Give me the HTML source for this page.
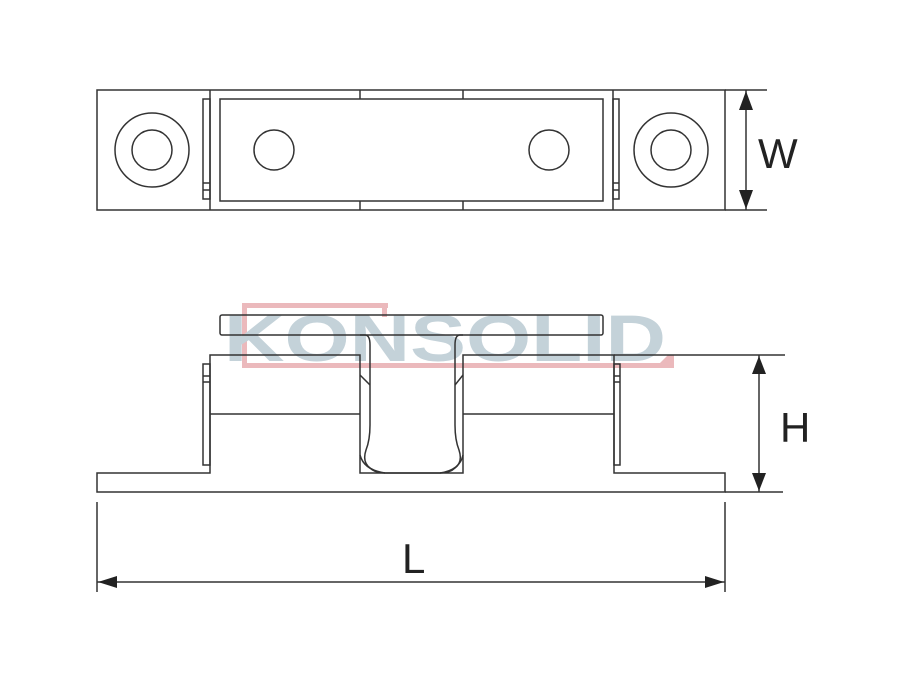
<!DOCTYPE html>
<html><head><meta charset="utf-8"><style>
html,body{margin:0;padding:0;background:#fff;}
svg{display:block;}
</style></head><body>
<svg width="899" height="675" viewBox="0 0 899 675" xmlns="http://www.w3.org/2000/svg">
<!-- watermark -->
<g fill="#ebb9bc">
<rect x="242" y="303" width="146" height="5"/>
<rect x="242" y="303" width="5" height="65"/>
<rect x="242" y="363" width="430" height="5"/>
<rect x="382" y="303" width="5" height="14"/>
<polygon points="660,363 668,355 674,355 674,368 660,368"/>
</g>
<text x="224" y="361" font-family="Liberation Sans, sans-serif" font-size="66" font-weight="bold" fill="#c4d2d9" textLength="442" lengthAdjust="spacingAndGlyphs">KONSOLID</text>

<g fill="none" stroke="#333" stroke-width="1.5">
<!-- top view -->
<rect x="97" y="90" width="628" height="120"/>
<line x1="210" y1="90" x2="210" y2="210"/>
<line x1="613" y1="90" x2="613" y2="210"/>
<rect x="220" y="99" width="383" height="102"/>
<line x1="360" y1="90" x2="360" y2="99"/><line x1="463" y1="90" x2="463" y2="99"/>
<line x1="360" y1="201" x2="360" y2="210"/><line x1="463" y1="201" x2="463" y2="210"/>
<rect x="203" y="99" width="7" height="100"/>
<line x1="203" y1="183" x2="210" y2="183"/><line x1="203" y1="190" x2="210" y2="190"/>
<rect x="613" y="99" width="6" height="100"/>
<line x1="613" y1="183" x2="619" y2="183"/><line x1="613" y1="190" x2="619" y2="190"/>
<circle cx="152" cy="150" r="37"/><circle cx="152" cy="150" r="20"/>
<circle cx="671" cy="150" r="37"/><circle cx="671" cy="150" r="20"/>
<circle cx="274" cy="150" r="20"/><circle cx="549" cy="150" r="20"/>

<!-- side view -->
<rect x="220" y="315" width="383" height="20" rx="2"/>
<path d="M97,473 H210 V355 H360 V473 H463 V355 H614 V473 H725 V492 H97 Z"/>
<line x1="210" y1="414" x2="360" y2="414"/>
<line x1="463" y1="414" x2="614" y2="414"/>
<rect x="203" y="364" width="7" height="101"/>
<line x1="203" y1="376" x2="210" y2="376"/><line x1="203" y1="382" x2="210" y2="382"/>
<rect x="614" y="364" width="6" height="101"/>
<line x1="614" y1="376" x2="620" y2="376"/><line x1="614" y1="382" x2="620" y2="382"/>
<path d="M360,335 H365 Q370,335 370,345 V425 Q370,440 366,450 Q362,462 370,468 Q375,473 385,473"/>
<path d="M463,335 H460 Q455,335 455,345 V425 Q455,440 459,450 Q463,462 455,468 Q450,473 440,473"/>
<path d="M360,375 L370,385"/><path d="M463,375 L455,385"/>
<path d="M360,455 Q364,470 385,473 H440 Q460,470 463,455"/>

<!-- dims -->
<line x1="725" y1="90" x2="767" y2="90"/><line x1="725" y1="210" x2="767" y2="210"/>
<line x1="746" y1="90" x2="746" y2="210"/>
<line x1="614" y1="355" x2="785" y2="355"/><line x1="725" y1="492" x2="783" y2="492"/>
<line x1="759" y1="355" x2="759" y2="492"/>
<line x1="97" y1="502" x2="97" y2="592"/><line x1="725" y1="502" x2="725" y2="592"/>
<line x1="97" y1="582" x2="725" y2="582"/>
</g>
<g fill="#222">
<polygon points="746,91 739,110 753,110"/><polygon points="746,209 739,190 753,190"/>
<polygon points="759,356 752,374 766,374"/><polygon points="759,491 752,473 766,473"/>
<polygon points="98,582 117,576 117,588"/><polygon points="724,582 705,576 705,588"/>
</g>
<g font-family="Liberation Sans, sans-serif" font-size="42" fill="#222">
<text x="758" y="168">W</text>
<text x="780" y="442">H</text>
<text x="402" y="573">L</text>
</g>
</svg>
</body></html>
